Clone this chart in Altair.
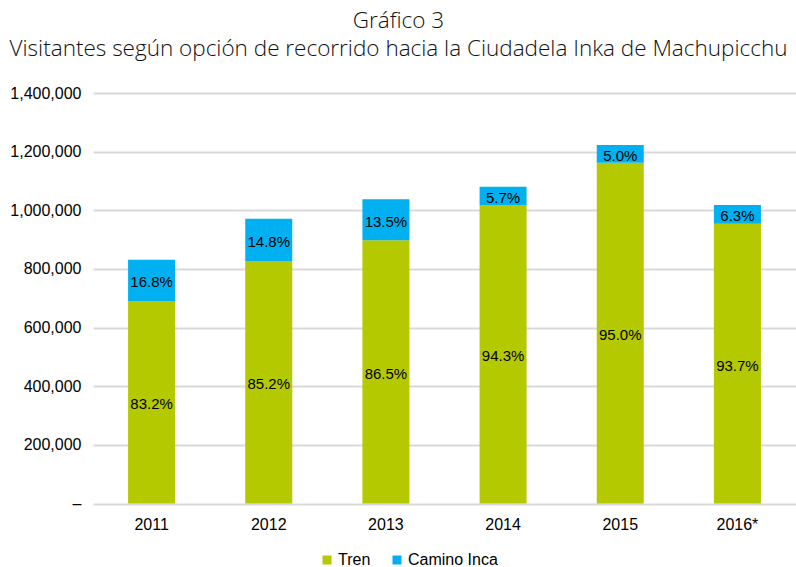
import altair as alt
import pandas as pd

years = ["2011", "2012", "2013", "2014", "2015", "2016*"]
tren = [691000, 827000, 898000, 1018000, 1162000, 954000]
camino = [140000, 144000, 140000, 62000, 61000, 64000]
tren_pct = ["83.2%", "85.2%", "86.5%", "94.3%", "95.0%", "93.7%"]
camino_pct = ["16.8%", "14.8%", "13.5%", "5.7%", "5.0%", "6.3%"]
series = ["Tren", "Camino Inca"]
colors = ["#B5C900", "#00B0F0"]

rows = []
for i, y in enumerate(years):
    rows.append({"year": y, "serie": "Tren", "ord": 0, "value": tren[i], "label": tren_pct[i]})
    rows.append({"year": y, "serie": "Camino Inca", "ord": 1, "value": camino[i], "label": camino_pct[i]})
df = pd.DataFrame(rows)

base = alt.Chart(df).transform_stack(
    stack="value", groupby=["year"], as_=["v0", "v1"], sort=[alt.SortField("ord")]
).transform_calculate(mid="(datum.v0 + datum.v1) / 2")

x = alt.X("year:N", sort=years, title=None,
          scale=alt.Scale(paddingInner=0.6, paddingOuter=0.3),
          axis=alt.Axis(labelAngle=0, labelFontSize=16, labelFont="Liberation Sans",
                        labelColor="#000000", labelPadding=13, domain=False, ticks=False))

bars = base.mark_bar(size=47).encode(
    x=x,
    y=alt.Y("v1:Q", title=None,
            scale=alt.Scale(domain=[0, 1400000], nice=False),
            axis=alt.Axis(values=[0, 200000, 400000, 600000, 800000, 1000000, 1200000, 1400000],
                          labelExpr="datum.value == 0 ? '–' : format(datum.value, ',')",
                          labelFontSize=16, labelFont="Liberation Sans", labelColor="#000000",
                          labelPadding=12, domain=False, ticks=False,
                          gridColor="#D9D9D9", gridWidth=2)),
    y2="v0:Q",
    color=alt.Color("serie:N", scale=alt.Scale(domain=series, range=colors),
                    legend=alt.Legend(title=None, orient="none", direction="horizontal",
                                      legendX=226, legendY=459,
                                      symbolType="square", symbolSize=81,
                                      symbolStrokeWidth=0, symbolOpacity=1,
                                      labelFontSize=16, labelFont="Liberation Sans",
                                      labelColor="#000000", columnPadding=18, labelOffset=3)),
)

text = base.mark_text(fontSize=15, font="Liberation Sans", color="#000000", baseline="middle", dy=2).encode(
    x=alt.X("year:N", sort=years),
    y=alt.Y("mid:Q"),
    text="label:N",
)

chart = alt.layer(bars, text).properties(
    width=703, height=410.5,
    title=alt.TitleParams(
        text="Gráfico 3",
        subtitle="Visitantes según opción de recorrido hacia la Ciudadela Inka de Machupicchu",
        font="Open Sans", fontSize=22.5, fontWeight=300, color="#111111",
        subtitleFont="Open Sans", subtitleFontSize=22.5, subtitleFontWeight=300, subtitleColor="#111111",
        subtitlePadding=5, anchor="middle", dx=-46, offset=25,
    ),
    autosize=alt.AutoSizeParams(type="none"),
    padding={"left": 93, "top": 93, "right": 0, "bottom": 63},
).configure_view(stroke=None)

chart.save("out.html", embed_options={"renderer": "svg", "actions": False})
